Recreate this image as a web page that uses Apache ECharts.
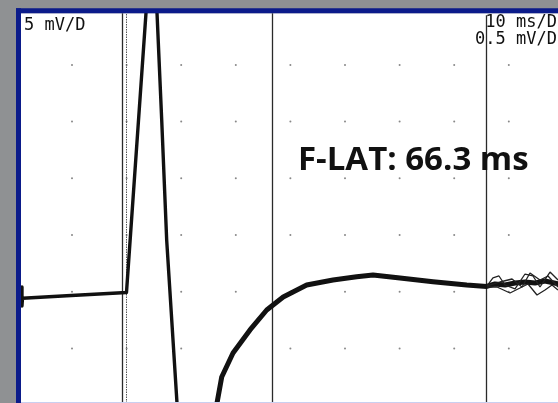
<!DOCTYPE html>
<html>
<head>
<meta charset="utf-8">
<script src="https://cdn.jsdelivr.net/npm/echarts@6/dist/echarts.min.js"></script>
<style>
html,body{margin:0;padding:0;background:#8f9193;}
#chart{width:558px;height:403px;}
</style>
</head>
<body>
<div id="chart"></div>
<script>
// Time in ms (10 ms per division), amplitude in divisions (0 = baseline row)
const mwaveTime = [0.84, 0.84, 0.93, 1.08, 9.03, 19.98, 23.55, 24.73, 25.57, 26.43, 27.34, 29.23, 29.78, 32.89, 35.64, 36.56];
const mwaveAmp  = [0.083, -0.252, -0.116, -0.116, -0.071, -0.014, 4.915, 6.496, 4.915, 3.028, 0.912, -1.963, -2.968, -3.673, -2.792, -1.963];

const fwaveTime = [36.56, 37.42, 39.49, 42.60, 45.66, 48.68, 52.98, 57.80, 62.14, 65.13, 70.07, 76.12, 82.29, 85.95, 87.47, 89.30, 91.14, 92.97, 94.80, 96.63, 99.01];
const fwaveAmp  = [-1.963, -1.504, -1.081, -0.675, -0.323, -0.093, 0.118, 0.206, 0.265, 0.295, 0.242, 0.176, 0.118, 0.092, 0.137, 0.118, 0.153, 0.171, 0.153, 0.189, 0.137];

const sweepBTime = [86.01, 87.10, 88.20, 89.30, 91.14, 92.97, 94.43, 95.71, 97.55, 99.01];
const sweepBAmp  = [0.101, 0.242, 0.277, 0.118, 0.048, 0.312, 0.277, 0.083, 0.347, 0.206];
const sweepCTime = [86.01, 87.84, 90.22, 91.68, 93.52, 95.16, 96.63, 97.91, 99.01];
const sweepCAmp  = [0.083, 0.083, -0.023, 0.048, 0.136, -0.058, 0.030, 0.118, 0.030];
const sweepDTime = [86.01, 88.39, 90.59, 92.42, 93.88, 95.71, 97.18, 99.01];
const sweepDAmp  = [0.101, 0.171, 0.224, 0.083, 0.330, 0.206, 0.277, 0.083];

// Cursor positions (ms)
const cursorSolid = [19.29, 46.68];
const cursorRight = [85.82];
const cursorDotted = [20.02];

// Dot grid ticks
const xTicks = [10, 20, 30, 40, 50, 60, 70, 80, 90];
const yTicks = [-1, 0, 1, 2, 3, 4];

const labelLeft = '5 mV/D';
const labelRight1 = '10 ms/D';
const labelRight2 = '0.5 mV/D';
const annotation = 'F-LAT: 66.3 ms';

function pairs(xs, ys){ return xs.map((x,i)=>[x, ys[i]]); }
const dots = [];
xTicks.forEach(x => yTicks.forEach(y => dots.push([x, y])));

const chart = echarts.init(document.getElementById('chart'));
const traceStyle = {color:'#111', join:'round', cap:'round'};
const solidCursor = {color: '#2a2a2a', width: 1.3, type: 'solid'};
chart.setOption({
  backgroundColor: '#8f9193',
  animation: false,
  grid: {left: 17.4, right: 0, top: 13.3, bottom: 0, show: true, backgroundColor: '#ffffff', borderWidth: 0},
  xAxis: {type: 'value', min: 0, max: 99.01, show: false},
  yAxis: {type: 'value', min: -1.963, max: 4.910, show: false},
  series: [
    {type: 'scatter', data: dots, symbolSize: 2, itemStyle: {color: '#6a6a6a'}, silent: true, z: 1},
    {type: 'line', data: [], silent: true, z: 2,
      markLine: {silent: true, symbol: 'none', label: {show: false},
        data: cursorSolid.map(v => ({xAxis: v, lineStyle: solidCursor}))
          .concat(cursorDotted.map(v => ({xAxis: v, lineStyle: {color: '#555', width: 1, type: [1.5, 1]}})))
          .concat(cursorRight.map(v => [{coord: [v, 4.875], lineStyle: solidCursor}, {coord: [v, -1.963]}]))}},
    {type: 'line', data: pairs(mwaveTime, mwaveAmp), showSymbol: false, lineStyle: Object.assign({width: 3.4}, traceStyle), z: 5},
    {type: 'line', data: pairs(fwaveTime, fwaveAmp), showSymbol: false, lineStyle: Object.assign({width: 5}, traceStyle), z: 5},
    {type: 'line', data: pairs(sweepBTime, sweepBAmp), showSymbol: false, lineStyle: {color: '#222', width: 1.3}, z: 5},
    {type: 'line', data: pairs(sweepCTime, sweepCAmp), showSymbol: false, lineStyle: {color: '#222', width: 1.3}, z: 5},
    {type: 'line', data: pairs(sweepDTime, sweepDAmp), showSymbol: false, lineStyle: {color: '#222', width: 1.3}, z: 5}
  ],
  graphic: [
    {type: 'rect', z: 100, shape: {x: 16, y: 0, width: 542, height: 8.3}, style: {fill: '#8f9193'}},
    {type: 'rect', z: 100, shape: {x: 16, y: 8.3, width: 542, height: 5}, style: {fill: '#0b1b8a'}},
    {type: 'rect', z: 100, shape: {x: 16, y: 8.3, width: 5, height: 395}, style: {fill: '#0b1b8a'}},
    {type: 'rect', z: 100, shape: {x: 21, y: 402, width: 537, height: 1}, style: {fill: '#c9cff0'}},
    {type: 'text', z: 110, style: {text: labelLeft, x: 24, y: 17.5, fill: '#111', font: '17px "DejaVu Sans Mono"', textAlign: 'left', textVerticalAlign: 'top'}},
    {type: 'text', z: 110, style: {text: labelRight1, x: 557, y: 14.5, fill: '#111', font: '17px "DejaVu Sans Mono"', textAlign: 'right', textVerticalAlign: 'top'}},
    {type: 'text', z: 110, style: {text: labelRight2, x: 557, y: 31, fill: '#111', font: '17px "DejaVu Sans Mono"', textAlign: 'right', textVerticalAlign: 'top'}},
    {type: 'text', z: 110, style: {text: annotation, x: 298, y: 144, fill: '#111', font: 'bold 33px "Open Sans"', textAlign: 'left', textVerticalAlign: 'top'}}
  ]
});
</script>
</body>
</html>
